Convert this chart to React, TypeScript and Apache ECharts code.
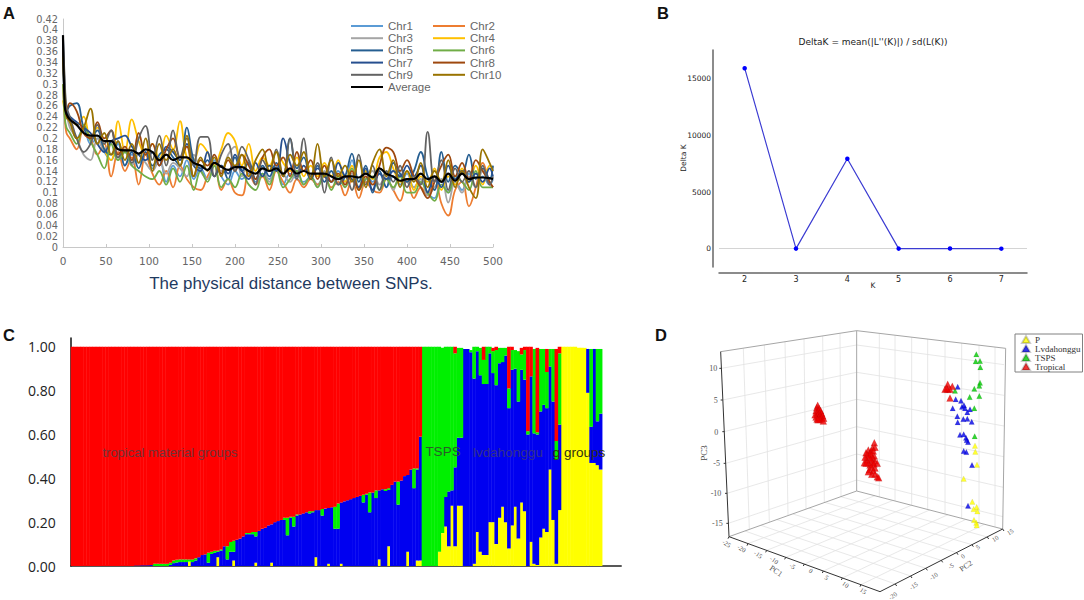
import { useEffect, useRef } from 'react'
import * as echarts from 'echarts'

// panel A, LD decay
const distance = [
  0, 2, 4,
  8, 16, 24, 32, 40, 48, 56, 64, 72, 80,
  88, 96, 104, 112, 120, 128, 136, 144, 152, 160,
  168, 176, 184, 192, 200, 208, 216, 224, 232, 240,
  248, 256, 264, 272, 280, 288, 296, 304, 312, 320,
  328, 336, 344, 352, 360, 368, 376, 384, 392, 400,
  408, 416, 424, 432, 440, 448, 456, 464, 472, 480,
  488, 496, 500
]
const chr1 = [
  .34, .27, .24,
  .23, .2, .22, .19, .2, .175, .16, .19, .15, .17,
  .155, .17, .145, .165, .12, .15, .13, .16, .125, .145,
  .125, .16, .13, .115, .14, .125, .135, .12, .135, .125,
  .15, .115, .135, .125, .12, .13, .115, .13, .12, .14,
  .12, .16, .11, .14, .12, .135, .11, .13, .115, .135,
  .11, .125, .1, .09, .125, .1, .12, .105, .135, .11,
  .13, .115, .125
]
const chr2 = [
  .3, .24, .21,
  .2, .18, .22, .2, .17, .19, .13, .175, .14, .165,
  .115, .17, .135, .115, .14, .11, .15, .125, .11, .105,
  .13, .15, .105, .125, .1, .095, .14, .115, .13, .105,
  .14, .12, .1, .125, .11, .125, .115, .13, .11, .12,
  .095, .125, .09, .12, .105, .1, .125, .105, .085, .125,
  .09, .11, .095, .13, .08, .058, .105, .12, .075, .11,
  .155, .12, .11
]
const chr3 = [
  .38, .3, .25,
  .22, .2, .17, .16, .2, .18, .19, .16, .175, .15,
  .17, .155, .14, .16, .135, .155, .145, .13, .17, .14,
  .125, .15, .14, .17, .185, .13, .16, .125, .145, .12,
  .15, .135, .12, .14, .115, .13, .11, .14, .12, .13,
  .11, .135, .105, .125, .14, .115, .13, .105, .135, .12,
  .11, .125, .095, .11, .125, .082, .12, .1, .13, .11,
  .14, .115, .11
]
const chr4 = [
  .27, .25, .24,
  .235, .225, .24, .2, .22, .18, .16, .232, .175, .235,
  .195, .17, .19, .16, .205, .18, .232, .165, .16, .19,
  .175, .15, .18, .21, .195, .15, .19, .14, .165, .15,
  .175, .155, .14, .165, .13, .15, .13, .155, .13, .16,
  .12, .15, .105, .14, .125, .165, .175, .145, .12, .14,
  .105, .13, .12, .145, .105, .13, .115, .145, .12, .15,
  .115, .15, .145
]
const chr5 = [
  .36, .28, .25,
  .26, .265, .22, .2, .215, .18, .17, .195, .15, .175,
  .145, .175, .15, .17, .18, .165, .15, .22, .16, .145,
  .16, .13, .15, .125, .165, .14, .155, .125, .15, .13,
  .155, .13, .2, .145, .165, .125, .15, .12, .14, .115,
  .13, .172, .12, .15, .1, .14, .11, .155, .135, .12,
  .14, .175, .13, .105, .175, .12, .15, .135, .17, .125,
  .145, .125, .15
]
const chr6 = [
  .3, .24, .22,
  .21, .19, .225, .195, .17, .145, .19, .16, .175, .15,
  .14, .13, .125, .14, .115, .145, .12, .15, .105, .14,
  .12, .15, .11, .125, .11, .135, .115, .105, .135, .115,
  .145, .11, .125, .14, .115, .13, .11, .135, .105, .13,
  .11, .145, .105, .125, .13, .105, .125, .11, .13, .1,
  .1, .12, .1, .085, .115, .1, .13, .12, .105, .14,
  .11, .11, .11
]
const chr7 = [
  .39, .29, .25,
  .24, .23, .22, .21, .19, .175, .195, .2, .205, .185,
  .17, .16, .175, .15, .185, .175, .16, .19, .15, .14,
  .175, .13, .15, .135, .17, .14, .125, .155, .13, .15,
  .14, .2, .155, .13, .15, .125, .145, .13, .12, .155,
  .13, .125, .11, .145, .105, .135, .125, .14, .13, .15,
  .13, .15, .1, .13, .11, .15, .125, .14, .12, .135,
  .12, .145, .13
]
const chr8 = [
  .37, .28, .25,
  .265, .25, .21, .2, .23, .2, .215, .17, .185, .16,
  .21, .17, .19, .15, .18, .2, .165, .185, .13, .16,
  .15, .17, .135, .16, .14, .17, .15, .125, .165, .18,
  .15, .165, .13, .175, .14, .16, .125, .15, .12, .135,
  .115, .14, .105, .13, .115, .15, .183, .175, .14, .16,
  .13, .11, .09, .12, .15, .17, .13, .155, .125, .16,
  .14, .12, .11
]
const chr9 = [
  .39, .31, .26,
  .24, .2, .175, .19, .225, .19, .215, .165, .18, .155,
  .2, .223, .16, .205, .15, .215, .165, .2, .15, .203,
  .203, .13, .17, .19, .14, .185, .16, .115, .16, .14,
  .18, .13, .2, .125, .2, .13, .155, .1, .165, .115,
  .13, .105, .17, .115, .15, .105, .14, .12, .15, .11,
  .13, .115, .212, .12, .16, .105, .145, .12, .14, .11,
  .15, .115, .13
]
const chr10 = [
  .35, .27, .24,
  .23, .2, .22, .255, .19, .21, .17, .195, .16, .19,
  .155, .2, .14, .19, .16, .18, .15, .205, .13, .165,
  .14, .165, .13, .165, .15, .17, .13, .16, .18, .14,
  .175, .13, .17, .15, .175, .125, .19, .13, .16, .13,
  .15, .12, .16, .11, .155, .18, .13, .16, .11, .14,
  .12, .155, .11, .14, .12, .16, .11, .14, .11, .09,
  .18, .155, .14
]
const average = [
  .39, .26, .245,
  .235, .225, .21, .205, .205, .195, .195, .18, .178, .178,
  .172, .18, .175, .16, .17, .16, .165, .165, .155, .15,
  .142, .155, .148, .142, .147, .147, .14, .135, .145, .14,
  .145, .135, .145, .135, .14, .135, .135, .135, .13, .125,
  .13, .13, .128, .135, .128, .145, .135, .13, .122, .125,
  .125, .135, .125, .13, .12, .135, .122, .135, .125, .128,
  .128, .127, .125
]
const chrNames = ['Chr1', 'Chr2', 'Chr3', 'Chr4', 'Chr5', 'Chr6', 'Chr7', 'Chr8', 'Chr9', 'Chr10', 'Average']
const chrValues = [chr1, chr2, chr3, chr4, chr5, chr6, chr7, chr8, chr9, chr10, average]
const chrColors = ['#5b9bd5', '#ed7d31', '#a5a5a5', '#ffc000', '#255e91', '#70ad47', '#264f8f', '#9e480e', '#636363', '#997300', '#000000']

// panel B, Evanno delta K
const kValues = ['2', '3', '4', '5', '6', '7']
const deltaK = [15950, 10, 7950, 10, 20, 5]

// panel C, admixture bars, 168 samples in order
const yellowShare = [
  0, 0, 0, 0, 0, 0, 0, 0, 0, 0,
  0, 0, 0, 0, 0, 0, 0, 0, 0, 0,
  0, 0, 0, 0, 0, 0, 0, 0, 0, 0,
  0, 0, 0, 0, 0, 0, 0, .02, 0, 0,
  0, 0, 0, 0, 0, 0, .04, 0, 0, 0,
  0, .025, 0, 0, 0, 0, 0, 0, .015, 0,
  0, 0, 0, .015, 0, 0, 0, 0, 0, 0,
  0, 0, 0, 0, 0, 0, 0, .04, 0, 0,
  0, .01, 0, 0, 0, .01, 0, 0, 0, 0,
  0, 0, 0, 0, 0, 0, 0, .03, 0, 0,
  .09, 0, 0, 0, 0, 0, .065, 0, 0, .025,
  .025, 0, 0, 0, 0, 0, .065, .15, .18, .09,
  .275, .09, .275, .275, 0, 0, 0, .01, .155, .065,
  .05, .05, .2, .2, .1, .22, .27, .2, .08, .185,
  .27, .125, .29, .25, 0, .11, .01, .005, .13, .17,
  .155, .44, .21, .01, .255, 1, 1, 1, 1, 1,
  .995, .995, .995, .79, .47, .47, .46, .44
]
const blueShare = [
  0, 0, 0, 0, 0, 0, 0, 0, 0, 0,
  0, 0, 0, 0, 0, 0, 0, 0, 0, 0,
  .002, .002, .003, .003, .003, .004, 0, 0, 0, 0,
  0, .005, .013, .016, .018, .018, .018, 0, .018, .025,
  .04, .05, .053, .015, .055, .06, .025, .07, .09, .03,
  .065, .04, .12, .125, .135, .145, .145, .145, .12, .16,
  .17, .175, .185, .175, .2, .205, .21, .21, .14, .22,
  .18, .23, .235, .24, .245, .24, .245, .215, .255, .23,
  .262, .255, .268, .17, .17, .28, .295, .3, .305, .31,
  .315, .32, .29, .325, .245, .335, .31, .315, .35, .342,
  .257, .37, .385, .28, .39, .41, .35, .44, .355, .415,
  .565, 0, 0, 0, 0, 0, 0, 0, .135, .25,
  .07, .36, .31, .31, .99, .99, .975, .845, .825, .805,
  .78, .78, .77, .68, .725, .705, .66, .76, .64, .71,
  .63, .625, .605, .6, .6, .755, .595, .595, .575, .565,
  .565, .47, .54, .475, .39, 0, 0, 0, 0, 0,
  0, 0, 0, .2, .165, .52, .2, .255
]
const greenShare = [
  0, 0, 0, 0, 0, 0, 0, 0, 0, 0,
  0, 0, 0, 0, 0, 0, 0, 0, 0, 0,
  0, 0, 0, 0, 0, 0, .01, .01, .01, .01,
  .01, .01, .012, .012, .012, .012, .012, .01, .012, .01,
  0, 0, 0, .045, .01, .01, .005, .005, 0, .06,
  .045, .05, 0, 0, 0, .005, .005, .01, .02, 0,
  0, 0, 0, 0, 0, 0, 0, .01, .08, .005,
  .045, .005, 0, 0, 0, .01, .005, 0, 0, .03,
  0, 0, 0, .1, .115, 0, 0, 0, 0, 0,
  0, 0, .035, .005, .09, 0, .035, 0, 0, .008,
  .008, 0, 0, .105, 0, 0, 0, 0, .09, .005,
  0, 1, 1, 1, 1, 1, .935, .845, .685, .66,
  .655, .52, .41, .41, 0, 0, .01, .145, .02, .125,
  .11, .17, .03, .1, .16, .07, .065, .035, .09, .09,
  .085, .23, .07, .135, .015, 0, .385, .01, .285, .255,
  .165, .08, .24, .085, .325, 0, 0, 0, 0, 0,
  0, 0, 0, 0, .355, 0, .33, .295
]
const redShare = [
  1, 1, 1, 1, 1, 1, 1, 1, 1, 1,
  1, 1, 1, 1, 1, 1, 1, 1, 1, 1,
  .998, .998, .997, .997, .997, .996, .99, .99, .99, .99,
  .99, .985, .975, .972, .97, .97, .97, .97, .97, .965,
  .96, .95, .947, .94, .935, .93, .93, .925, .91, .91,
  .89, .885, .88, .875, .865, .85, .85, .845, .845, .84,
  .83, .825, .815, .81, .8, .795, .79, .78, .78, .775,
  .775, .765, .765, .76, .755, .75, .75, .745, .745, .74,
  .738, .735, .732, .73, .715, .71, .705, .7, .695, .69,
  .685, .68, .675, .67, .665, .665, .655, .655, .65, .65,
  .645, .63, .615, .615, .61, .59, .585, .56, .555, .555,
  .41, 0, 0, 0, 0, 0, 0, 0, 0, 0,
  0, .03, 0, 0, 0, 0, 0, 0, 0, 0,
  .06, 0, 0, .015, .015, 0, 0, 0, .19, .015,
  0, 0, .03, .015, .385, .135, 0, .385, 0, 0,
  .105, 0, 0, .42, .03, 0, 0, 0, 0, 0,
  0, 0, 0, 0, 0, 0, 0, 0
]
// the baseline runs a little past the last sample
const sampleSlots = Array.from({ length: 174 }, (_, i) => String(i + 1))

// panel D, the 3D box as it lies on the page: [u, v] in a flat plane
const pointsP = [
  [885, 377], [886, 395], [891, 434], [851, 476], [877, 545], [890, 561], [881, 567], [892, 574], [882, 600], [889, 608], [890, 616]
]
const pointsLvdahonggu = [
  [833, 200], [827, 238], [843, 242], [852, 256], [846, 260], [855, 265], [870, 268], [818, 265], [862, 277], [832, 289], [862, 296], [850, 297],
  [875, 305], [833, 307], [840, 344], [851, 343], [858, 353], [860, 360], [864, 366], [851, 393], [859, 396], [876, 435], [864, 557]
]
const pointsTSPS = [
  [889, 103], [887, 124], [900, 123], [901, 142], [900, 188], [898, 197], [883, 206], [869, 231], [898, 228], [883, 265], [825, 212], [884, 349]
]
const pointsTropical = [
  [803, 193], [817, 199], [795, 208], [803, 208], [810, 208], [800, 205], [810, 234],
  [583, 368], [578, 383], [585, 382], [565, 390], [573, 392], [580, 393], [558, 398], [570, 400], [562, 405], [575, 405], [583, 408],
  [555, 412], [568, 412], [578, 415], [560, 420], [572, 420], [585, 422], [553, 428], [565, 428], [578, 428], [592, 430], [582, 432],
  [570, 435], [558, 430], [575, 442], [585, 444], [568, 449], [580, 452], [585, 462], [575, 463], [592, 470], [596, 473], [565, 455],
  [413, 256], [410, 263], [417, 265], [408, 272], [415, 272], [422, 272], [411, 279], [418, 280], [425, 280], [405, 284], [413, 286],
  [420, 287], [428, 287], [408, 291], [416, 293], [423, 293], [431, 295], [411, 297], [420, 298], [430, 303], [414, 299]
]
const boxAxes = [
  [122, 95, 147, 650], [147, 650, 600, 815], [600, 815, 968, 627],
  [118, 145, 124, 145], [122, 240, 128, 240], [127, 335, 133, 335], [131, 430, 137, 430], [135, 520, 141, 520], [139, 610, 145, 610],
  [147, 650, 144, 656], [204, 671, 201, 677], [260, 691, 257, 697], [317, 712, 314, 718], [373, 732, 370, 738], [430, 753, 427, 759], [487, 774, 484, 780], [543, 794, 540, 800],
  [646, 792, 650, 798], [692, 768, 696, 774], [738, 745, 742, 751], [784, 721, 788, 727], [830, 698, 834, 704], [876, 674, 880, 680], [922, 651, 926, 657], [968, 627, 972, 633]
]
const boxEdges = [
  [122, 95, 530, 32], [147, 650, 530, 513], [530, 32, 530, 513], [530, 32, 977, 85], [530, 513, 968, 627], [977, 85, 968, 627]
]
const boxGrid = [
  [190, 85, 208, 628], [253, 75, 268, 606], [315, 65, 324, 586], [372, 57, 378, 567], [428, 48, 433, 548], [480, 40, 483, 530],
  [124, 145, 530, 75], [128, 240, 530, 157], [132, 335, 530, 238], [137, 430, 530, 320], [141, 520, 530, 402], [145, 610, 530, 480],
  [530, 75, 972, 134], [530, 157, 972, 226], [530, 238, 972, 318], [530, 320, 971, 410], [530, 402, 970, 502], [530, 480, 969, 590],
  [598, 40, 598, 531], [645, 46, 645, 543], [695, 52, 695, 556], [743, 57, 743, 568], [795, 63, 795, 582], [845, 69, 845, 595], [897, 75, 897, 609], [945, 81, 945, 621],
  [204, 671, 585, 527], [260, 691, 640, 541], [317, 712, 694, 556], [373, 732, 749, 570], [430, 753, 804, 584], [487, 774, 858, 598], [543, 794, 913, 613],
  [195, 633, 646, 792], [243, 616, 692, 768], [291, 599, 738, 745], [339, 582, 784, 721], [386, 564, 830, 698], [434, 547, 876, 674], [482, 530, 922, 651]
]
const pc3Ticks = [
  [112, 146, '10'], [113, 241, '5'], [115, 336, '0'], [120, 431, '-5'], [124, 521, '-10'], [128, 611, '-15']
]
const pc1Ticks = [
  [140, 670, '-25'], [185, 685, '-20'], [235, 703, '-15'], [283, 720, '-10'], [338, 738, '-5'], [393, 752, '0'], [440, 772, '5'], [497, 793, '10'], [550, 812, '15']
]
const pc2Ticks = [
  [638, 827, '-20'], [700, 797, '-15'], [760, 768, '-10'], [812, 738, '-5'], [848, 708, '0'], [893, 680, '5'], [945, 655, '10'], [990, 635, '15']
]

const SERIF = '"Liberation Serif", serif'
const DEJAVU = '"DejaVu Sans", sans-serif'
const ARIAL = '"Liberation Sans", sans-serif'

function segmentSeries(segments: number[][], color: string, width: number) {
  return {
    type: 'custom',
    coordinateSystem: 'cartesian2d',
    xAxisIndex: 3,
    yAxisIndex: 3,
    silent: true,
    clip: false,
    z: 1,
    data: segments,
    renderItem: (_: any, api: any) => {
      const a = api.coord([api.value(0), api.value(1)])
      const b = api.coord([api.value(2), api.value(3)])
      return {
        type: 'line',
        shape: { x1: a[0], y1: a[1], x2: b[0], y2: b[1] },
        style: { stroke: color, lineWidth: width }
      }
    }
  }
}

function tickSeries(rows: any[][], rotation: number) {
  return {
    type: 'custom',
    coordinateSystem: 'cartesian2d',
    xAxisIndex: 3,
    yAxisIndex: 3,
    silent: true,
    clip: false,
    z: 2,
    data: rows.map(r => [r[0], r[1]]),
    renderItem: (params: any, api: any) => {
      const row = rows[params.dataIndex]
      const p = api.coord([row[0], row[1]])
      return {
        type: 'text',
        x: p[0],
        y: p[1],
        rotation,
        style: {
          text: row[2],
          fill: '#555',
          font: `${rotation === 0 ? 8 : 6.5}px ${SERIF}`,
          align: rotation === 0 ? 'right' : 'center',
          verticalAlign: 'middle'
        }
      }
    }
  }
}

function scatterSeries(name: string, points: number[][], color: string, size: number) {
  return {
    name,
    type: 'scatter',
    xAxisIndex: 3,
    yAxisIndex: 3,
    symbol: 'triangle',
    symbolSize: size,
    itemStyle: { color, borderColor: 'rgba(0,0,0,0.25)', borderWidth: 0.3 },
    z: 3,
    data: points
  }
}

function panelLabel(text: string, x: number, y: number) {
  return {
    type: 'text',
    x,
    y,
    z: 100,
    style: { text, font: `bold 16.5px ${ARIAL}`, fill: '#111', textAlign: 'left', textVerticalAlign: 'middle' }
  }
}

function plainText(text: string, x: number, y: number, font: string, fill: string, rotation = 0) {
  return {
    type: 'text',
    x,
    y,
    z: 100,
    rotation,
    style: { text, font, fill, textAlign: 'center', textVerticalAlign: 'middle' }
  }
}

export default function App() {
  const chartRef = useRef<HTMLDivElement>(null)

  useEffect(() => {
    if (!chartRef.current) return
    const chart = echarts.init(chartRef.current, undefined, { renderer: 'svg' })

    const lineSeries = chrNames.map((name, i) => ({
      name,
      type: 'line',
      xAxisIndex: 0,
      yAxisIndex: 0,
      smooth: 0.4,
      showSymbol: false,
      color: chrColors[i],
      lineStyle: { width: name === 'Average' ? 2.2 : 1.8, color: chrColors[i] },
      z: name === 'Average' ? 5 : 2,
      data: distance.map((d, j) => [d, chrValues[i][j]])
    }))

    const barSeries = [
      { name: 'yellow', data: yellowShare, color: '#ffff00' },
      { name: 'blue', data: blueShare, color: '#0000f0' },
      { name: 'green', data: greenShare, color: '#00f000' },
      { name: 'red', data: redShare, color: '#ff0000' }
    ].map(s => ({
      ...s,
      type: 'bar',
      stack: 'share',
      xAxisIndex: 2,
      yAxisIndex: 2,
      barWidth: 3.6,
      itemStyle: { color: s.color }
    }))

    const chrLegend = {
      orient: 'vertical',
      icon: 'rect',
      itemWidth: 32,
      itemHeight: 2,
      itemGap: 0.2,
      padding: 0,
      textStyle: { fontFamily: ARIAL, fontSize: 11.5, color: '#666', lineHeight: 11.2 }
    }

    chart.setOption({
      animation: false,
      backgroundColor: '#ffffff',
      legend: [
        { ...chrLegend, left: 351, top: 20, data: ['Chr1', 'Chr3', 'Chr5', 'Chr7', 'Chr9', 'Average'] },
        { ...chrLegend, left: 433, top: 20, data: ['Chr2', 'Chr4', 'Chr6', 'Chr8', 'Chr10'] },
        {
          left: 1015,
          top: 334,
          orient: 'vertical',
          icon: 'triangle',
          itemWidth: 8,
          itemHeight: 7,
          itemGap: 0,
          padding: [1, 2, 1, 6],
          borderColor: '#808080',
          borderWidth: 1,
          backgroundColor: '#fff',
          textStyle: { fontFamily: SERIF, fontSize: 9, color: '#333', lineHeight: 9 },
          data: ['P', 'Lvdahonggu', 'TSPS', 'Tropical']
        }
      ],
      grid: [
        { left: 63, top: 19, width: 430, height: 228 },
        { left: 719, top: 50, width: 308, height: 217 },
        { left: 70.7, top: 338, width: 550.5, height: 228 },
        { left: 680, top: 320, width: 404, height: 280 }
      ],
      xAxis: [
        {
          gridIndex: 0,
          type: 'value',
          min: 0,
          max: 500,
          interval: 50,
          splitLine: { show: false },
          axisLine: { lineStyle: { color: '#c8c8c8', width: 1 } },
          axisTick: { inside: true, length: 3, lineStyle: { color: '#c8c8c8' } },
          axisLabel: { fontFamily: DEJAVU, fontSize: 10.5, color: '#666', margin: 8, showMinLabel: true, showMaxLabel: true }
        },
        {
          gridIndex: 1,
          type: 'category',
          data: kValues,
          offset: 5.4,
          axisLine: { onZero: false, lineStyle: { color: '#666', width: 1.5 } },
          axisTick: { alignWithLabel: true, inside: true, length: 2, lineStyle: { color: '#444' } },
          axisLabel: { fontFamily: DEJAVU, fontSize: 8, color: '#222', margin: 3 }
        },
        {
          gridIndex: 2,
          type: 'category',
          data: sampleSlots,
          axisLine: { onZero: false, lineStyle: { color: '#222', width: 1.5 } },
          axisTick: { show: false },
          axisLabel: { show: false }
        },
        { gridIndex: 3, type: 'value', min: 0, max: 1212, show: false }
      ],
      yAxis: [
        {
          gridIndex: 0,
          type: 'value',
          min: 0,
          max: 0.42,
          interval: 0.02,
          splitLine: { show: false },
          axisLine: { show: true, lineStyle: { color: '#c8c8c8', width: 1 } },
          axisTick: { show: false },
          axisLabel: { fontFamily: DEJAVU, fontSize: 9.8, color: '#666', margin: 5, showMinLabel: true, showMaxLabel: true }
        },
        {
          gridIndex: 1,
          type: 'value',
          min: -1615,
          max: 17559,
          offset: 6,
          splitLine: { show: false },
          axisLine: { show: true, onZero: false, lineStyle: { color: '#666', width: 1.5 } },
          axisTick: { inside: true, length: 2, lineStyle: { color: '#444' }, customValues: [0, 5000, 10000, 15000] },
          axisLabel: {
            fontFamily: DEJAVU,
            fontSize: 7.5,
            color: '#222',
            margin: 2,
            customValues: [0, 5000, 10000, 15000],
            formatter: (v: number) => String(v)
          }
        },
        {
          gridIndex: 2,
          type: 'value',
          min: 0,
          max: 1.04,
          splitLine: { show: false },
          axisLine: { show: true, lineStyle: { color: '#111', width: 1.5 } },
          axisTick: { length: 5, lineStyle: { color: '#111', width: 1.2 }, customValues: [0, 0.2, 0.4, 0.6, 0.8, 1] },
          axisLabel: {
            fontFamily: '"Open Sans", sans-serif',
            fontSize: 14,
            color: '#222',
            margin: 15,
            customValues: [0, 0.2, 0.4, 0.6, 0.8, 1],
            formatter: (v: number) => v.toFixed(2)
          }
        },
        { gridIndex: 3, type: 'value', min: 0, max: 840, inverse: true, show: false }
      ],
      series: [
        ...lineSeries,
        {
          name: 'Delta K',
          type: 'line',
          xAxisIndex: 1,
          yAxisIndex: 1,
          symbol: 'circle',
          symbolSize: 4.5,
          z: 4,
          lineStyle: { color: '#3c3cd2', width: 1.2 },
          itemStyle: { color: '#0000ff' },
          markLine: {
            silent: true,
            z: 1,
            symbol: 'none',
            label: { show: false },
            lineStyle: { color: '#d4d4d4', width: 1, type: 'solid' },
            data: [{ yAxis: 0 }]
          },
          data: deltaK
        },
        ...barSeries,
        segmentSeries(boxGrid, '#e2e2e2', 0.8),
        segmentSeries(boxEdges, '#a6a6a6', 1),
        segmentSeries(boxAxes, '#333333', 1),
        tickSeries(pc3Ticks, 0),
        tickSeries(pc1Ticks, -0.6),
        tickSeries(pc2Ticks, 0.6),
        scatterSeries('P', pointsP, '#ffff00', 5.5),
        scatterSeries('Lvdahonggu', pointsLvdahonggu, '#0000e6', 5.5),
        scatterSeries('TSPS', pointsTSPS, '#00c800', 5.5),
        scatterSeries('Tropical', pointsTropical, '#ee0000', 7)
      ],
      graphic: {
        elements: [
          panelLabel('A', 3, 13),
          panelLabel('B', 657, 13),
          panelLabel('C', 3, 335),
          panelLabel('D', 655, 335),
          plainText('The physical distance between SNPs.', 291, 283, `16.9px ${ARIAL}`, '#1f3a5f'),
          plainText("DeltaK = mean(|L''(K)|) / sd(L(K))", 873, 42, `9px ${DEJAVU}`, '#222'),
          plainText('Delta K', 683, 158, `7.5px ${DEJAVU}`, '#222', Math.PI / 2),
          plainText('K', 873, 285, `7.5px ${DEJAVU}`, '#222'),
          plainText('tropical material groups', 170, 452, `13px ${ARIAL}`, '#6e3338'),
          plainText('TSPS', 443, 451, `13.5px ${ARIAL}`, '#2b5a2b'),
          plainText('lvdahonggu', 508, 452, `13.5px ${ARIAL}`, '#33308a'),
          plainText('g groups', 579, 452, `13.5px ${ARIAL}`, '#332f10'),
          plainText('PC3', 704, 453, `9px ${SERIF}`, '#444', Math.PI / 2),
          plainText('PC1', 776, 571, `8px ${SERIF}`, '#555', -0.6),
          plainText('PC2', 966, 566, `8px ${SERIF}`, '#555', 0.6)
        ]
      }
    })

    return () => {
      chart.dispose()
    }
  }, [])

  return <div ref={chartRef} style={{ position: 'absolute', left: 0, top: 0, width: 1084, height: 600 }} />
}
